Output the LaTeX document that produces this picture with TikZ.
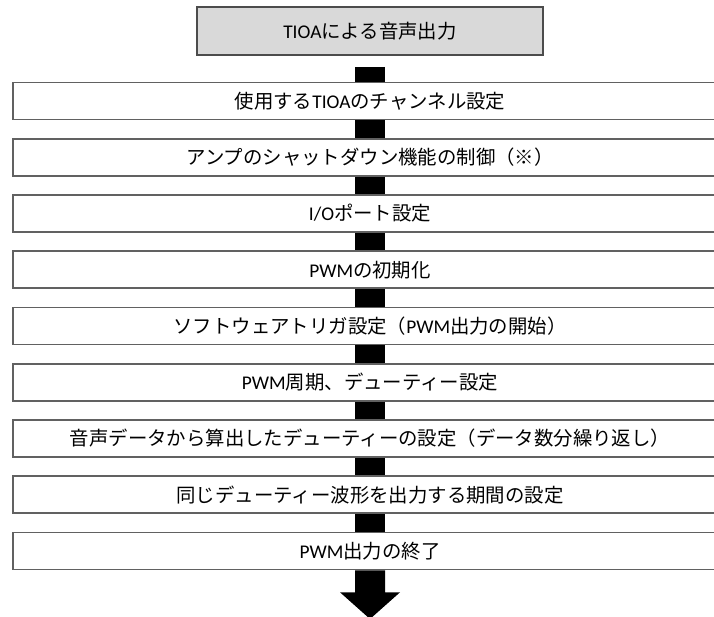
\documentclass[tikz,border=0pt]{standalone}
\usepackage{fontspec}
\setmainfont{Noto Sans CJK JP}
\newfontfamily\lat{Carlito}
\begin{document}
\begin{tikzpicture}[x=1pt,y=-1pt,
  stepbox/.style={draw=black!62, line width=1.6pt, fill=white, minimum width=714pt, minimum height=37pt, inner sep=0pt, font=\fontsize{19.4}{23}\selectfont},
  titlebox/.style={draw=black!70, line width=1.4pt, fill=black!15, minimum width=346pt, minimum height=48pt, inner sep=0pt, font=\fontsize{19.4}{23}\selectfont},
  bar/.style={line width=30pt, line cap=butt, draw=black}]
\useasboundingbox (0,0) rectangle (714,617);
\clip (0,0) rectangle (714,617);
\node[titlebox] (top) at (370,31) {{\lat TIOA}による音声出力};
\node[stepbox] (b1) at (370,101.0) {使用する{\lat TIOA}のチャンネル設定};
\node[stepbox] (b2) at (370,157.25) {アンプのシャットダウン機能の制御（※）};
\node[stepbox] (b3) at (370,213.5) {{\lat I/O}ポート設定};
\node[stepbox] (b4) at (370,269.75) {{\lat PWM}の初期化};
\node[stepbox] (b5) at (370,326.0) {ソフトウェアトリガ設定（{\lat PWM}出力の開始）};
\node[stepbox] (b6) at (370,382.25) {{\lat PWM}周期、デューティー設定};
\node[stepbox] (b7) at (370,438.5) {音声データから算出したデューティーの設定（データ数分繰り返し）};
\node[stepbox] (b8) at (370,494.75) {同じデューティー波形を出力する期間の設定};
\node[stepbox] (b9) at (370,551.0) {{\lat PWM}出力の終了};
\coordinate (c0) at (370,67);
\draw[bar] (c0) -- (b1.north);
\foreach \i [evaluate=\i as \j using int(\i+1)] in {1,...,7,8}
  \draw[bar] (b\i.south) -- (b\j.north);
\coordinate (tip) at (370,619);
\fill[black] ([xshift=-15pt]b9.south) -- ([xshift=15pt]b9.south) -- ([xshift=15pt,yshift=-22pt]b9.south) -- ([xshift=30pt,yshift=-22pt]b9.south) -- (tip) -- ([xshift=-30pt,yshift=-22pt]b9.south) -- ([xshift=-15pt,yshift=-22pt]b9.south) -- cycle;
\end{tikzpicture}
\end{document}
